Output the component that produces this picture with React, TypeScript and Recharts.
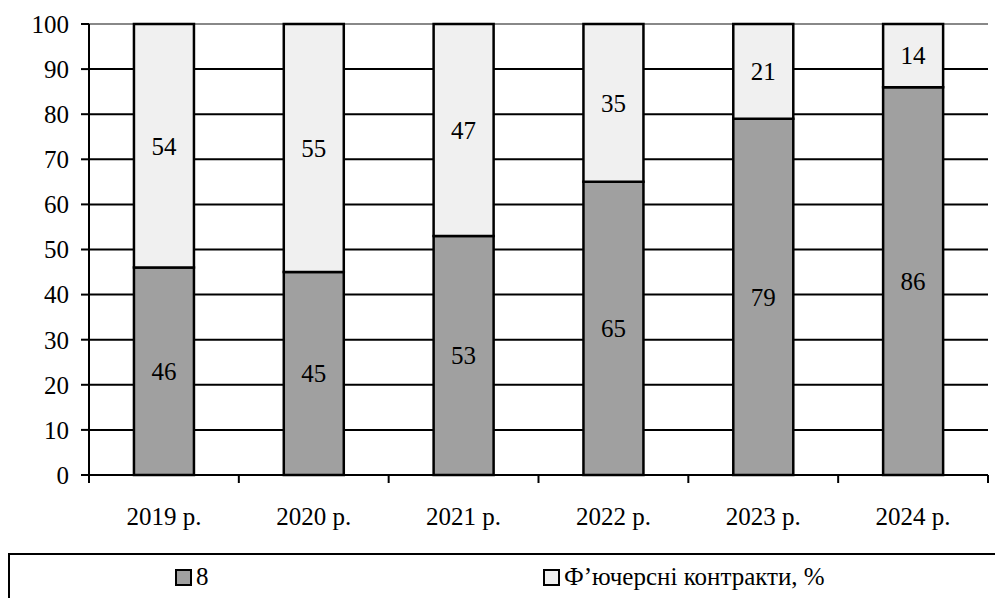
import React from 'react';
import { BarChart, Bar, XAxis, YAxis, CartesianGrid, LabelList } from 'recharts';

const categories = ['2019 р.', '2020 р.', '2021 р.', '2022 р.', '2023 р.', '2024 р.'];
const seriesDark = [46, 45, 53, 65, 79, 86];
const seriesLight = [54, 55, 47, 35, 21, 14];
const seriesNames = ['8', 'Ф’ючерсні контракти, %'];
const yTicks = [0, 10, 20, 30, 40, 50, 60, 70, 80, 90, 100];

const data = categories.map((c, i) => ({ cat: c, dark: seriesDark[i], light: seriesLight[i] }));

const FONT = '"Liberation Serif", "DejaVu Serif", "Noto Serif", "Times New Roman", Times, serif';
const FS = 25;
const TICK_SIZE = 8;
const X_TICK_MARGIN = 24;
const DARK = '#a0a0a0';
const LIGHT = '#f0f0f0';

const XTick = (props: any) => {
  const { x, y, payload, index, visibleTicksCount } = props;
  const half = payload && typeof payload.offset === 'number' ? payload.offset : 75;
  const axisY = y - TICK_SIZE - X_TICK_MARGIN;
  return (
    <g>
      <line x1={x - half} x2={x - half} y1={axisY} y2={axisY + TICK_SIZE} stroke="#000" strokeWidth={2} />
      {index === visibleTicksCount - 1 && (
        <line x1={x + half} x2={x + half} y1={axisY} y2={axisY + TICK_SIZE} stroke="#000" strokeWidth={2} />
      )}
      <text x={x} y={y} dy="0.71em" textAnchor="middle" style={{ fontFamily: FONT }} fontSize={FS} fill="#000">
        {payload.value}
      </text>
    </g>
  );
};

const gridLine = (props: any) => {
  const { x1, x2, y1, y2, index } = props;
  const isTop = index === yTicks.length - 1;
  return (
    <line key={`h-${index}`} x1={x1} x2={x2} y1={y1} y2={y2} stroke={isTop ? '#888' : '#000'} strokeWidth={2} />
  );
};

const Swatch = ({ color }: { color: string }) => (
  <span
    style={{
      display: 'inline-block',
      width: 13,
      height: 13,
      background: color,
      border: '2.5px solid #000',
      marginRight: 4,
    }}
  />
);

export default function App() {
  return (
    <div style={{ position: 'absolute', left: 0, top: 0, width: 995, height: 598, background: '#fff', overflow: 'hidden', fontFamily: FONT }}>
      <BarChart
        width={995}
        height={598}
        data={data}
        margin={{ top: 24, right: 7, left: 0, bottom: 63 }}
        barCategoryGap="30%"
        style={{ fontFamily: FONT }}
      >
        <CartesianGrid vertical={false} horizontal={gridLine} />
        <XAxis
          dataKey="cat"
          height={60}
          tickLine={false}
          tickSize={TICK_SIZE}
          tickMargin={X_TICK_MARGIN}
          axisLine={{ stroke: '#000', strokeWidth: 2 }}
          tick={<XTick />}
          interval={0}
        />
        <YAxis
          width={89}
          domain={[0, 100]}
          ticks={yTicks}
          tickSize={TICK_SIZE}
          tickMargin={12}
          axisLine={{ stroke: '#000', strokeWidth: 2 }}
          tickLine={{ stroke: '#000', strokeWidth: 2 }}
          tick={{ fontFamily: FONT, fontSize: FS, fill: '#000', style: { fontFamily: FONT } }}
          interval={0}
        />
        <YAxis
          yAxisId="right"
          orientation="right"
          width={0}
          domain={[0, 100]}
          tick={false}
          tickLine={false}
          axisLine={{ stroke: '#b0b0b0', strokeWidth: 2 }}
        />
        <Bar dataKey="dark" name={seriesNames[0]} stackId="s" fill={DARK} stroke="#000" strokeWidth={2.5} isAnimationActive={false}>
          <LabelList dataKey="dark" position="center" fill="#000" fontFamily={FONT} fontSize={FS} style={{ fontFamily: FONT }} />
        </Bar>
        <Bar dataKey="light" name={seriesNames[1]} stackId="s" fill={LIGHT} stroke="#000" strokeWidth={2.5} isAnimationActive={false}>
          <LabelList dataKey="light" position="center" fill="#000" fontFamily={FONT} fontSize={FS} style={{ fontFamily: FONT }} />
        </Bar>
      </BarChart>
      <div
        style={{
          position: 'absolute',
          left: 8,
          top: 553,
          width: 1000,
          height: 80,
          borderTop: '2.5px solid #000',
          borderLeft: '2.5px solid #000',
          fontFamily: FONT,
          fontSize: FS,
          color: '#000',
        }}
      >
        <div style={{ position: 'absolute', left: 165, top: 8, display: 'flex', alignItems: 'center', lineHeight: '28px' }}>
          <Swatch color={DARK} />
          <span>{seriesNames[0]}</span>
        </div>
        <div style={{ position: 'absolute', left: 533, top: 8, display: 'flex', alignItems: 'center', lineHeight: '28px' }}>
          <Swatch color={LIGHT} />
          <span>{seriesNames[1]}</span>
        </div>
      </div>
    </div>
  );
}
